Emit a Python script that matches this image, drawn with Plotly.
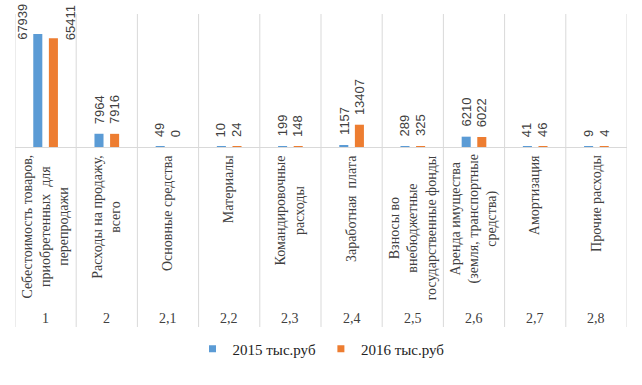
import plotly.graph_objects as go

# ---- data ----
codes = ["1", "2", "2,1", "2,2", "2,3", "2,4", "2,5", "2,6", "2,7", "2,8"]
names = [
    "Себестоимость товаров,<br>приобретенных  для<br>перепродажи",
    "Расходы на продажу,<br>всего",
    "Основные средства",
    "Материалы",
    "Командировочные<br>расходы",
    "Заработная  плата",
    "Взносы во<br>внебюджетные<br>государственные фонды",
    "Аренда имущества<br>(земля, транспортные<br>средства)",
    "Амортизация",
    "Прочие расходы",
]
series_names = ["2015 тыс.руб", "2016 тыс.руб"]
v2015 = [67939, 7964, 49, 10, 199, 1157, 289, 6210, 41, 9]
v2016 = [65411, 7916, 0, 24, 148, 13407, 325, 6022, 46, 4]

# ---- style ----
W, H = 642, 385
ML, MR, MT, MB = 15, 15, 14, 238
colors = ["#5B9BD5", "#ED7D31"]
grid_col = "#D9D9D9"
txt_col = "#404040"
BARGAP, BARGROUPGAP = 0.49, 0.42
YMAX = 80000
plot_h = H - MT - MB
plot_w = W - ML - MR
n = len(codes)
cat_px = plot_w / n
slot_off = cat_px * (1 - BARGAP) / 4
# manual nudges for labels of first category (moved beside bars)
nudge = {(0, 0): (-16, -8), (0, 1): (17, -4)}
xpos = list(range(n))

def py(px_from_top):
    """pixel row -> paper y"""
    return (H - MB - px_from_top) / plot_h

fig = go.Figure()
for s, (nm, vals) in enumerate(zip(series_names, [v2015, v2016])):
    fig.add_trace(go.Bar(x=xpos, y=vals, name=nm, marker_color=colors[s],
                         marker_line_width=0, customdata=codes, showlegend=False,
                         hovertemplate="%{customdata}: %{y}<extra>" + nm + "</extra>"))
# legend entries (small square swatches)
for s, nm in enumerate(series_names):
    fig.add_trace(go.Scatter(x=[None], y=[None], mode="markers", name=nm,
                             marker=dict(symbol="square", size=7, color=colors[s]),
                             showlegend=True, hoverinfo="skip"))

ann = []
for s, vals in enumerate([v2015, v2016]):
    sign = -1 if s == 0 else 1
    for i, v in enumerate(vals):
        dx, dy = nudge.get((i, s), (0, 8))
        ann.append(dict(x=xpos[i], y=v, xref="x", yref="y", text=str(v),
                        textangle=-90, showarrow=False, yanchor="bottom",
                        xanchor="center", xshift=sign * slot_off + dx, yshift=dy,
                        font=dict(family="Liberation Sans", size=13, color=txt_col)))
for i in range(n):
    ann.append(dict(x=xpos[i], y=py(153), xref="x", yref="paper", text=names[i],
                    textangle=-90, showarrow=False, yanchor="top", xanchor="center",
                    align="center",
                    font=dict(family="Liberation Serif", size=14, color=txt_col)))
    ann.append(dict(x=xpos[i], y=py(318), xref="x", yref="paper", text=codes[i],
                    showarrow=False, yanchor="middle", xanchor="center",
                    font=dict(family="Liberation Serif", size=14, color=txt_col)))

shapes = []
for k in range(n + 1):
    shapes.append(dict(type="line", xref="x", yref="paper", x0=k - 0.5, x1=k - 0.5,
                       y0=py(327), y1=1, line=dict(color=grid_col, width=1)))

fig.update_layout(
    width=W, height=H, margin=dict(l=ML, r=MR, t=MT, b=MB),
    paper_bgcolor="white", plot_bgcolor="white",
    barmode="group", bargap=BARGAP, bargroupgap=BARGROUPGAP,
    xaxis=dict(range=[-0.5, n - 0.5], showticklabels=False,
               showgrid=False, showline=True, linecolor=grid_col, linewidth=1,
               ticks="", zeroline=False),
    yaxis=dict(range=[0, YMAX], visible=False, showgrid=False, zeroline=False),
    annotations=ann, shapes=shapes,
    showlegend=True,
    legend=dict(orientation="h", x=0.5, xanchor="center", y=py(349), yanchor="middle",
                font=dict(family="Liberation Serif", size=15, color="#222222"),
                itemwidth=30, tracegroupgap=0),
)
fig.write_html("out.html", config={"displayModeBar": False},
               post_script="document.body.style.margin='0';document.body.style.overflow='hidden';")
